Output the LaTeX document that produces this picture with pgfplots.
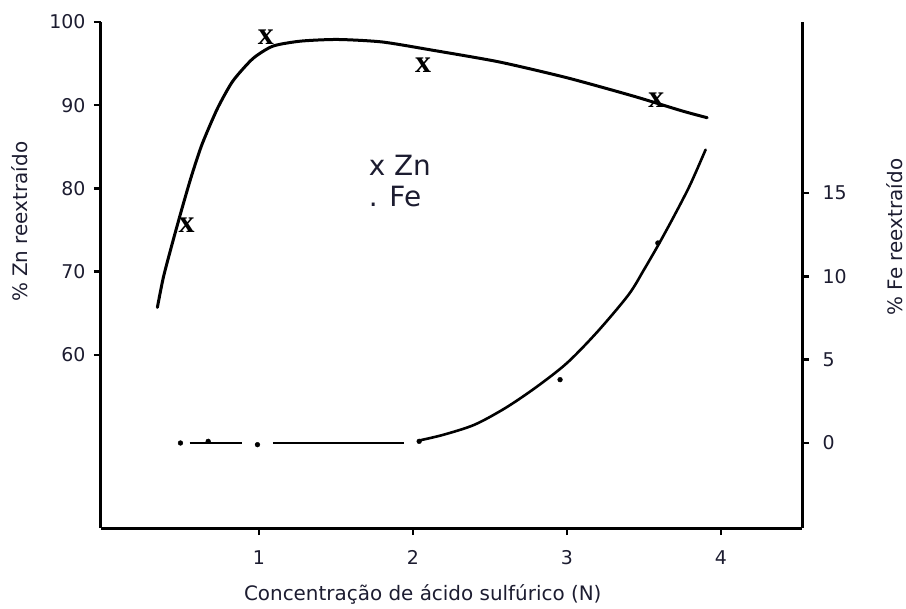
\documentclass[border=0pt]{standalone}
\usepackage{fontspec}
\setmainfont{DejaVu Sans}
\newfontfamily\markfont{Liberation Serif}
\usepackage{pgfplots}
\pgfplotsset{compat=1.18}
\definecolor{ink}{RGB}{28,28,48}

\begin{document}
\begin{tikzpicture}
\useasboundingbox (-101bp,-81bp) rectangle (805bp,528bp);
\pgfplotsset{
  common/.style={
    scale only axis, width=701bp, height=506bp,
    xmin=-0.026, xmax=4.526,
    at={(0,0)}, anchor=south west,
    axis line style={line width=3bp, black},
    tick style={line width=2.5bp, black},
    major tick length=7bp,
    tick align=outside,
    ticklabel style={font=\fontsize{19}{22}\selectfont, text=ink},
    label style={font=\fontsize{20}{24}\selectfont, text=ink},
    /pgf/number format/assume math mode=true,
    clip=false,
  }
}
% zinc, left axis
\begin{axis}[common,
  axis x line*=bottom, axis y line*=left,
  ymin=39.2, ymax=100,
  xtick={1,2,3,4}, ytick={60,70,80,90,100},
  xticklabel style={yshift=-12bp},
  yticklabel style={xshift=-5bp},
  xlabel={Concentração de ácido sulfúrico (N)},
  ylabel={\% Zn reextraído},
  xlabel style={at={(axis description cs:0.459,-0.132)}, anchor=center},
  ylabel style={at={(axis description cs:-0.1155,0.605)}, anchor=center},
]
\addplot[black, line width=3bp, smooth, tension=0.4, line cap=round, line join=round]
  coordinates {(0.34,65.7) (0.38,69.4) (0.44,73.6) (0.50,77.6) (0.56,81.4)
    (0.63,85.3) (0.73,89.6) (0.83,92.9) (0.96,95.6) (1.09,97.1)
    (1.27,97.7) (1.51,97.9) (1.80,97.6) (2.13,96.6) (2.56,95.2) (3.00,93.3)
    (3.43,91.1) (3.75,89.3) (3.91,88.5)};
\addplot[only marks, mark=text,
  text mark={\fontsize{32}{32}\markfont\bfseries x}]
  coordinates {(0.53,75.6) (1.045,98.2) (2.065,94.8) (3.58,90.6)};
\node[anchor=base west, font=\fontsize{28}{32}\selectfont, text=ink]
  at (axis cs:1.69,81.6) {x Zn};
\node[anchor=base west, font=\fontsize{28}{32}\selectfont, text=ink]
  at (axis cs:1.69,77.8) {. Fe};
\end{axis}
% iron, right axis
\begin{axis}[common,
  axis x line=none, axis y line*=right,
  ymin=-5.1, ymax=25.26,
  ytick={0,5,10,15},
  yticklabel style={xshift=10bp},
  ylabel={\% Fe reextraído},
  ylabel style={at={(axis description cs:1.1327,0.575)}, anchor=center},
]
\addplot[black, line width=2bp] coordinates {(0.55,0) (0.89,0)};
\addplot[black, line width=2bp] coordinates {(1.09,0) (1.94,0)};
\addplot[black, line width=2.6bp, smooth, tension=0.5, line cap=round]
  coordinates {(2.04,0.15) (2.20,0.5) (2.40,1.1) (2.60,2.1) (2.80,3.35)
    (3.00,4.8) (3.20,6.7) (3.40,8.9) (3.50,10.4) (3.60,12.0) (3.70,13.7)
    (3.80,15.5) (3.90,17.6)};
\addplot[only marks, mark=*, mark size=2.4bp, black]
  coordinates {(0.49,0) (0.67,0.1) (0.99,-0.1) (2.04,0.1) (2.955,3.8) (3.59,12.0)};
\end{axis}
\end{tikzpicture}
\end{document}
